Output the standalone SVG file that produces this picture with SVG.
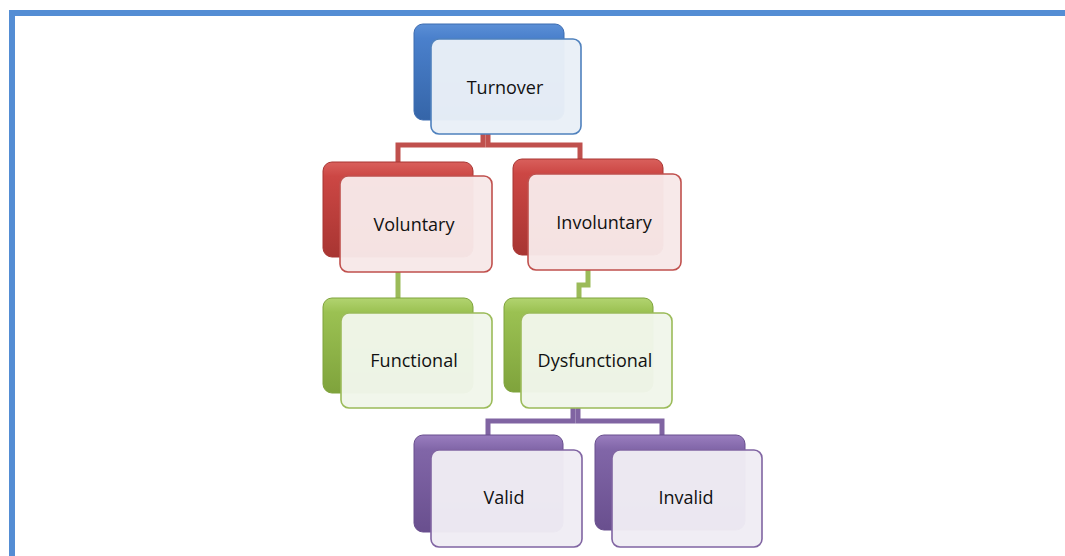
<svg xmlns="http://www.w3.org/2000/svg" width="1065" height="556" viewBox="0 0 1065 556">
<defs>
<linearGradient id="gB" x1="0" y1="0" x2="0" y2="1"><stop offset="0" stop-color="#5b8fd6"/><stop offset="0.15" stop-color="#4a80cc"/><stop offset="1" stop-color="#3565a8"/></linearGradient>
<linearGradient id="gR" x1="0" y1="0" x2="0" y2="1"><stop offset="0" stop-color="#d9605c"/><stop offset="0.15" stop-color="#cc4744"/><stop offset="1" stop-color="#a83532"/></linearGradient>
<linearGradient id="gG" x1="0" y1="0" x2="0" y2="1"><stop offset="0" stop-color="#b2d470"/><stop offset="0.15" stop-color="#9bc152"/><stop offset="1" stop-color="#7fa33c"/></linearGradient>
<linearGradient id="gP" x1="0" y1="0" x2="0" y2="1"><stop offset="0" stop-color="#9a7ebf"/><stop offset="0.15" stop-color="#8166a8"/><stop offset="1" stop-color="#694f8e"/></linearGradient>
</defs>
<style>
.back{stroke-width:1}
.front{stroke-width:1.6}
.lbl{font-family:"Open Sans","Liberation Sans",sans-serif;font-size:18px;fill:#111;text-anchor:middle;dominant-baseline:central}
.con{fill:none;stroke-width:5;stroke-linejoin:miter}
</style>
<rect width="1065" height="556" fill="#ffffff"/>
<g id="border" fill="#548dd4">
<rect x="9" y="10" width="1056" height="6"/>
<rect x="9" y="10" width="6" height="546"/>
</g>
<g id="connectors">
<path class="con" stroke="#c0504d" d="M483,134 V145 H398 V162"/>
<path class="con" stroke="#c0504d" d="M488,134 V145 H580 V159"/>
<path class="con" stroke="#9bbb59" d="M398,272 V298"/>
<path class="con" stroke="#9bbb59" d="M588,270 V285 H579 V298"/>
<path class="con" stroke="#8064a2" d="M573,408 V421 H488 V435"/>
<path class="con" stroke="#8064a2" d="M578,408 V421 H662 V435"/>
</g>
<g id="turnover">
<rect class="back" x="414" y="24" width="150" height="96" rx="9" fill="url(#gB)" stroke="#3d6cb0"/>
<rect class="front" x="431" y="39" width="150" height="95" rx="8" fill="#e9eff7" fill-opacity="0.97" stroke="#4f81bd"/>
<text class="lbl" x="505" y="87">Turnover</text>
</g>
<g id="voluntary">
<rect class="back" x="323" y="162" width="150" height="95" rx="9" fill="url(#gR)" stroke="#a83532"/>
<rect class="front" x="340" y="176" width="152" height="96" rx="8" fill="#f7e8e8" fill-opacity="0.97" stroke="#c0504d"/>
<text class="lbl" x="414" y="224">Voluntary</text>
</g>
<g id="involuntary">
<rect class="back" x="513" y="159" width="150" height="96" rx="9" fill="url(#gR)" stroke="#a83532"/>
<rect class="front" x="528" y="174" width="153" height="96" rx="8" fill="#f7e8e8" fill-opacity="0.97" stroke="#c0504d"/>
<text class="lbl" x="604" y="222">Involuntary</text>
</g>
<g id="functional">
<rect class="back" x="323" y="298" width="150" height="95" rx="9" fill="url(#gG)" stroke="#7fa33c"/>
<rect class="front" x="341" y="313" width="151" height="95" rx="8" fill="#f1f6ea" fill-opacity="0.97" stroke="#9bbb59"/>
<text class="lbl" x="414" y="360">Functional</text>
</g>
<g id="dysfunctional">
<rect class="back" x="504" y="298" width="149" height="94" rx="9" fill="url(#gG)" stroke="#7fa33c"/>
<rect class="front" x="521" y="313" width="151" height="95" rx="8" fill="#f1f6ea" fill-opacity="0.97" stroke="#9bbb59"/>
<text class="lbl" x="595" y="360">Dysfunctional</text>
</g>
<g id="valid">
<rect class="back" x="414" y="435" width="149" height="97" rx="9" fill="url(#gP)" stroke="#694f8e"/>
<rect class="front" x="431" y="450" width="151" height="97" rx="8" fill="#efecf4" fill-opacity="0.97" stroke="#8064a2"/>
<text class="lbl" x="504" y="497">Valid</text>
</g>
<g id="invalid">
<rect class="back" x="595" y="435" width="150" height="95" rx="9" fill="url(#gP)" stroke="#694f8e"/>
<rect class="front" x="612" y="450" width="150" height="97" rx="8" fill="#efecf4" fill-opacity="0.97" stroke="#8064a2"/>
<text class="lbl" x="686" y="497">Invalid</text>
</g>
</svg>
